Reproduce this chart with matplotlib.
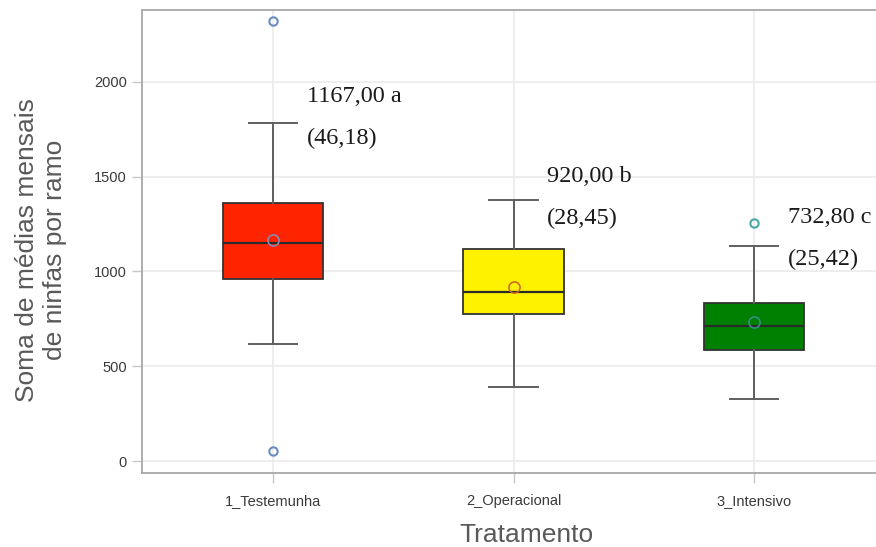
import matplotlib
matplotlib.use("Agg")
from matplotlib import pyplot as plt

# Boxplot summary values.
categories = ["1_Testemunha", "2_Operacional", "3_Intensivo"]
q1_values = [960, 775, 585]
medians = [1150, 891, 712]
q3_values = [1361, 1118, 833]
whisker_low = [617, 390, 327]
whisker_high = [1783, 1377, 1134]
means = [1167.00, 920.00, 732.80]
outliers = [[2321, 53], [], [1255]]

# Annotation texts and their heights.
mean_labels = ["1167,00 a", "920,00 b", "732,80 c"]
se_labels = ["(46,18)", "(28,45)", "(25,42)"]
mean_label_y = [1925, 1503, 1282]
se_label_y = [1703, 1282, 1065]

y_ticks = [0, 500, 1000, 1500, 2000]

box_colors = ["#ff2400", "#fff200", "#008000"]
mean_colors = ["#7f93bd", "#d0602a", "#3c8c8c"]
outlier_colors = ["#6a8cc0", "#6a8cc0", "#4aa8a8"]

fig = plt.figure(figsize=(8.76, 5.47), dpi=100)
ax = fig.add_axes([142 / 876, 74 / 547, 743 / 876, 463 / 547])

positions = list(range(1, len(categories) + 1))

# Build the stats the bxp call needs.
stats = []
for i in range(len(categories)):
    stats.append({
        "label": categories[i],
        "q1": q1_values[i],
        "med": medians[i],
        "q3": q3_values[i],
        "whislo": whisker_low[i],
        "whishi": whisker_high[i],
        "mean": means[i],
        "fliers": outliers[i],
    })

bp = ax.bxp(stats, positions=positions, widths=0.416, capwidths=0.2,
            patch_artist=True, showmeans=False, showfliers=False,
            boxprops=dict(edgecolor="#333333", linewidth=1.3),
            medianprops=dict(color="#2a2a2a", linewidth=1.6),
            whiskerprops=dict(color="#5f5f5f", linewidth=1.4),
            capprops=dict(color="#5f5f5f", linewidth=1.4))

for patch, color in zip(bp["boxes"], box_colors):
    patch.set_facecolor(color)

# Mean markers and outliers, coloured per group.
for i, pos in enumerate(positions):
    ax.plot(pos, means[i], marker="o", markersize=8, markerfacecolor="none",
            markeredgecolor=mean_colors[i], markeredgewidth=1.1, zorder=5)
    if outliers[i]:
        ax.plot([pos] * len(outliers[i]), outliers[i], linestyle="none", marker="o",
                markersize=6, markerfacecolor="none", markeredgecolor=outlier_colors[i],
                markeredgewidth=1.5, zorder=5)

# Mean and standard error annotations.
for i, pos in enumerate(positions):
    ax.text(pos + 0.14, mean_label_y[i], mean_labels[i], fontsize=17.5,
            family="Liberation Serif", color="#1a1a1a", ha="left", va="center")
    ax.text(pos + 0.14, se_label_y[i], se_labels[i], fontsize=17.5,
            family="Liberation Serif", color="#1a1a1a", ha="left", va="center")

ax.set_xlim(0.455, 3.545)
ax.set_ylim(-63, 2379)
ax.set_xticks(positions)
ax.set_xticklabels(categories, family="Liberation Sans")
ax.set_yticks(y_ticks)
ax.set_yticklabels([str(t) for t in y_ticks], family="Liberation Sans")

ax.grid(True, color="#ebebeb", linewidth=1.2)
ax.set_axisbelow(True)

for side in ["left", "bottom", "top", "right"]:
    ax.spines[side].set_color("#a8a8a8")
    ax.spines[side].set_linewidth(1.3)

ax.tick_params(axis="both", colors="#c8c8c8", length=7, width=1.0)
ax.tick_params(axis="y", labelcolor="#3a3a3a", labelsize=10.5, pad=4)
ax.tick_params(axis="x", labelcolor="#3a3a3a", labelsize=10.5, pad=8)

ax.set_ylabel("Soma de médias mensais\nde ninfas por ramo", fontsize=19,
              color="#595959", family="Liberation Sans", ha="center", va="center",
              linespacing=1.2)
ax.yaxis.set_label_coords(-0.136, 0.482)
ax.set_xlabel("Tratamento", fontsize=19, color="#595959", family="Liberation Sans",
              va="center")
ax.xaxis.set_label_coords(0.518, -0.134)

fig.savefig("out.png", dpi=100)
